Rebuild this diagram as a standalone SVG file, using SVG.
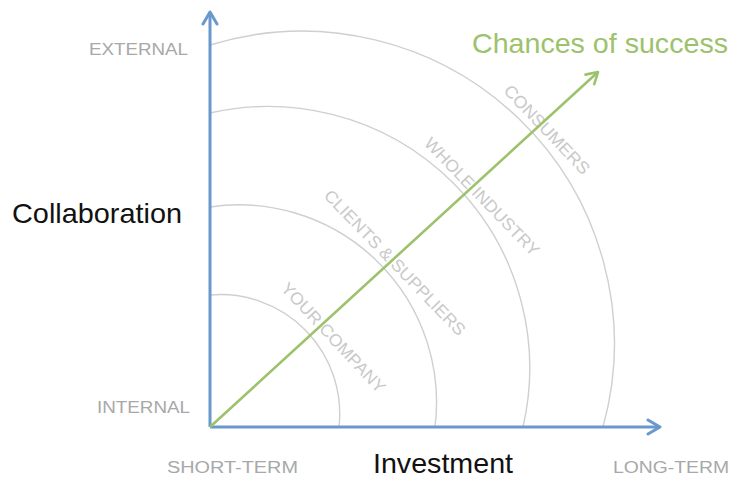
<svg xmlns="http://www.w3.org/2000/svg" width="733" height="479" viewBox="0 0 733 479">
<style>
.axis{stroke:#6a98cd;stroke-width:3;fill:none}
.arc{stroke:#cfcfcf;stroke-width:1.4;fill:none}
.ring{font-family:"Liberation Sans",Arial,sans-serif;font-size:17px;fill:#c9c9c9;text-anchor:middle}
.tick{font-family:"Liberation Sans",Arial,sans-serif;font-size:16px;fill:#a8a8a8}
.title{font-family:"Liberation Sans",Arial,sans-serif;font-size:28px;fill:#111}
.green{stroke:#9cc26c;stroke-width:2.6;fill:none}
</style>
<defs>
<marker id="blueHead" markerUnits="userSpaceOnUse" markerWidth="20" markerHeight="20" refX="14" refY="10" orient="auto">
<path d="M2,3 L14,10 L2,17" fill="none" stroke="#6a98cd" stroke-width="3" stroke-linecap="round" stroke-linejoin="round"/>
</marker>
<marker id="greenHead" markerUnits="userSpaceOnUse" markerWidth="20" markerHeight="20" refX="14" refY="10" orient="auto">
<path d="M3,3.5 L14,10 L3,16.5" fill="none" stroke="#9cc26c" stroke-width="2.6" stroke-linecap="round" stroke-linejoin="round"/>
</marker>
</defs>
<rect width="733" height="479" fill="#fff"/>
<g id="rings">
<g id="your-company">
<path class="arc" d="M210,295 A119.3,119.3 0 0 1 339,427"/>
<text class="ring" transform="translate(333.5,337.5) rotate(47)" y="6" textLength="144" lengthAdjust="spacingAndGlyphs">YOUR COMPANY</text>
</g>
<g id="clients-suppliers">
<path class="arc" d="M210,207 A197.5,197.5 0 0 1 435,427"/>
<text class="ring" transform="translate(395,262.5) rotate(46)" y="6" textLength="195" lengthAdjust="spacingAndGlyphs">CLIENTS &amp; SUPPLIERS</text>
</g>
<g id="whole-industry">
<path class="arc" d="M210,113 A261.5,261.5 0 0 1 523,427"/>
<text class="ring" transform="translate(482,196.5) rotate(46)" y="6" textLength="157" lengthAdjust="spacingAndGlyphs">WHOLE INDUSTRY</text>
</g>
<g id="consumers">
<path class="arc" d="M210,45 A312.4,312.4 0 0 1 603,427"/>
<text class="ring" transform="translate(547,129.5) rotate(46.5)" y="6" textLength="116" lengthAdjust="spacingAndGlyphs">CONSUMERS</text>
</g>
</g>
<g id="connectors">
<line id="y-axis" class="axis" x1="210" y1="427" x2="210" y2="12" marker-end="url(#blueHead)"/>
<line id="x-axis" class="axis" x1="210" y1="427" x2="660" y2="427" marker-end="url(#blueHead)"/>
<line id="success-arrow" class="green" x1="210" y1="427" x2="598" y2="72" marker-end="url(#greenHead)"/>
</g>
<g id="labels">
<text id="external" class="tick" x="89" y="55" textLength="99" lengthAdjust="spacingAndGlyphs">EXTERNAL</text>
<text id="internal" class="tick" x="97" y="413" textLength="93" lengthAdjust="spacingAndGlyphs">INTERNAL</text>
<text id="short-term" class="tick" x="167" y="473" textLength="131" lengthAdjust="spacingAndGlyphs">SHORT-TERM</text>
<text id="long-term" class="tick" x="613" y="473" textLength="116" lengthAdjust="spacingAndGlyphs">LONG-TERM</text>
<text id="collaboration" class="title" x="12" y="223" textLength="170" lengthAdjust="spacingAndGlyphs">Collaboration</text>
<text id="investment" class="title" x="373" y="473" textLength="140" lengthAdjust="spacingAndGlyphs">Investment</text>
<text id="chances" class="title" x="472" y="53" style="fill:#9cc26c" textLength="256" lengthAdjust="spacingAndGlyphs">Chances of success</text>
</g>
</svg>
